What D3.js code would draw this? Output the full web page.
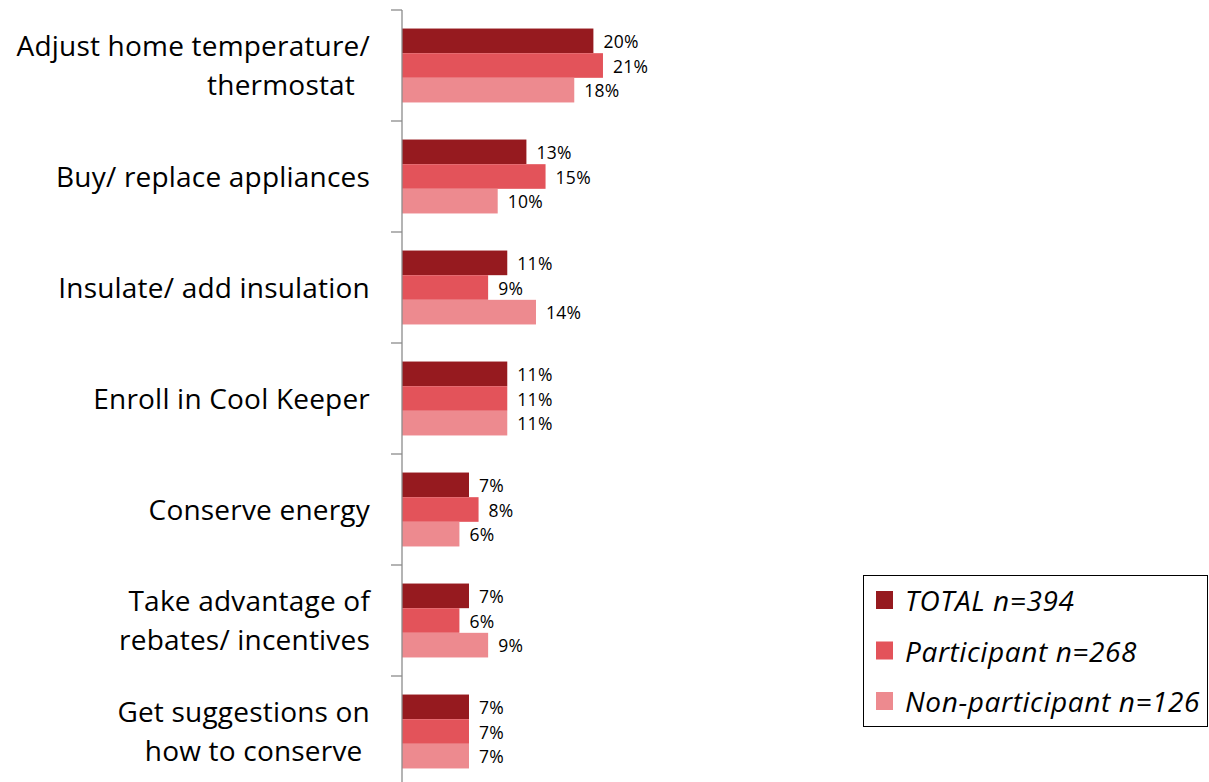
<!DOCTYPE html>
<html>
<head>
<meta charset="utf-8">
<script src="https://cdn.jsdelivr.net/npm/d3@7"></script>
<style>
  html, body { margin: 0; padding: 0; background: #fff; }
  svg { display: block; }
  text { font-family: "Open Sans", Lato, sans-serif; fill: #000; white-space: pre; }
</style>
</head>
<body>
<svg id="chart" width="1209" height="782"></svg>
<script>
// ---- data ----
const categories = [
  "Adjust home temperature/\nthermostat  ",
  "Buy/ replace appliances",
  "Insulate/ add insulation",
  "Enroll in Cool Keeper",
  "Conserve energy",
  "Take advantage of\nrebates/ incentives",
  "Get suggestions on\nhow to conserve "
];
const seriesNames = ["TOTAL n=394", "Participant n=268", "Non-participant n=126"];
const totalValues = [20, 13, 11, 11, 7, 7, 7];
const participantValues = [21, 15, 9, 11, 8, 6, 7];
const nonParticipantValues = [18, 10, 14, 11, 6, 9, 7];
const seriesColors = ["#961a1f", "#e3535a", "#ed8a8f"];

const seriesValues = [totalValues, participantValues, nonParticipantValues];

// ---- layout ----
const svg = d3.select("#chart");
const axisX = 402;
const y0 = d3.scaleBand().domain(categories).range([10, 787]).padding(0);
const bw = y0.bandwidth();
const y1 = d3.scaleBand().domain(seriesNames).range([bw * 0.167, bw * 0.833]).padding(0);
const x = d3.scaleLinear().domain([0, 20]).range([axisX, axisX + 191.4]);

// bars
const groups = svg.selectAll("g.cat").data(categories).enter().append("g")
  .attr("class", "cat")
  .attr("transform", d => `translate(0,${y0(d)})`);

seriesNames.forEach((s, si) => {
  groups.append("rect")
    .attr("x", x(0))
    .attr("y", y1(s))
    .attr("width", (d, i) => x(seriesValues[si][i]) - x(0))
    .attr("height", y1.bandwidth())
    .attr("fill", seriesColors[si]);
  groups.append("text")
    .attr("x", (d, i) => x(seriesValues[si][i]) + 10)
    .attr("y", y1(s) + y1.bandwidth() / 2 + 1)
    .attr("dy", "0.36em")
    .attr("font-size", 17.5)
    .attr("letter-spacing", 0.3)
    .text((d, i) => seriesValues[si][i] + "%");
});

// axis line + ticks at band boundaries
svg.append("line")
  .attr("x1", axisX).attr("x2", axisX)
  .attr("y1", 10).attr("y2", 787)
  .attr("stroke", "#8c8c8c").attr("stroke-width", 1.3);
const boundaries = categories.map(c => y0(c)).concat([y0.range()[1]]);
svg.selectAll("line.tick").data(boundaries).enter().append("line")
  .attr("class", "tick")
  .attr("x1", axisX - 11).attr("x2", axisX)
  .attr("y1", d => d).attr("y2", d => d)
  .attr("stroke", "#8c8c8c").attr("stroke-width", 1.3);

// category labels
const lineH = 39;
groups.each(function(d) {
  const lines = d.split("\n");
  const t = d3.select(this).append("text")
    .attr("text-anchor", "end")
    .attr("font-size", 28)
    .attr("letter-spacing", 0.2);
  const startY = bw / 2 - (lines.length - 1) * lineH / 2;
  lines.forEach((ln, li) => {
    t.append("tspan")
      .attr("x", 370)
      .attr("y", startY + li * lineH)
      .attr("dy", "0.36em")
      .text(ln);
  });
});

// legend
const lg = svg.append("g").attr("transform", "translate(863,575)");
lg.append("rect").attr("x", 0.5).attr("y", 0.5).attr("width", 344).attr("height", 151)
  .attr("fill", "#fff").attr("stroke", "#000").attr("stroke-width", 1);
seriesNames.forEach((s, i) => {
  lg.append("rect").attr("x", 13).attr("y", 16 + i * 50.5).attr("width", 17).attr("height", 18)
    .attr("fill", seriesColors[i]);
  lg.append("text").attr("x", 42).attr("y", 26 + i * 50.5).attr("dy", "0.36em")
    .attr("font-size", 28).attr("font-style", "italic").attr("letter-spacing", 0.6).text(s);
});
</script>
</body>
</html>
